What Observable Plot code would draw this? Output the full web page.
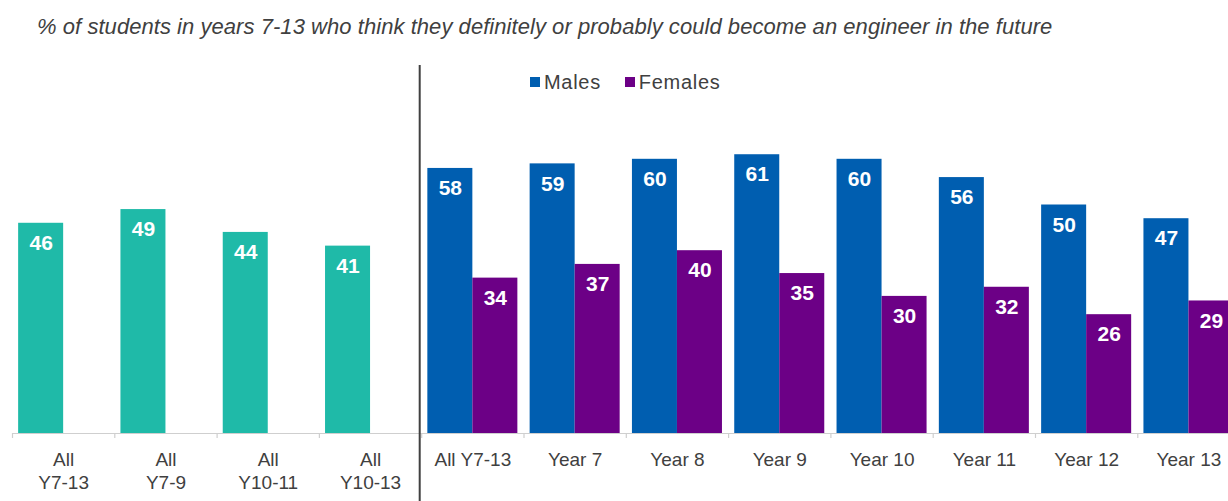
<!DOCTYPE html>
<html>
<head>
<meta charset="utf-8">
<script src="https://cdn.jsdelivr.net/npm/d3@7"></script>
<script src="https://cdn.jsdelivr.net/npm/@observablehq/plot@0.6"></script>
<style>
  html, body { margin: 0; padding: 0; background: #fff; overflow: hidden; }
  #wrap { position: relative; width: 1228px; height: 501px; overflow: hidden; font-family: "Liberation Sans", Arial, sans-serif; }
  #title { height: 50px; box-sizing: border-box; padding: 16px 0 0 37px; font-size: 22px; line-height: 22px; font-style: italic; color: #404040; white-space: nowrap; letter-spacing: 0.05px; }
  #legend { position: absolute; top: 72px; left: 530px; display: flex; align-items: center; font-size: 20px; line-height: 20px; color: #404040; letter-spacing: 0.7px; }
  #legend .item { display: flex; align-items: center; margin-right: 24px; }
  #legend .sw { width: 10px; height: 10px; margin-right: 4px; }
</style>
</head>
<body>
<div id="wrap">
  <div id="title"></div>
  <div id="chart"></div>
  <div id="legend"></div>
</div>
<script>
const titleText = "% of students in years 7-13 who think they definitely or probably could become an engineer in the future";

const overallCategories = ["All\nY7-13", "All\nY7-9", "All\nY10-11", "All\nY10-13"];
const overallValues = [46, 49, 44, 41];

const yearCategories = ["All Y7-13", "Year 7", "Year 8", "Year 9", "Year 10", "Year 11", "Year 12", "Year 13"];
const maleValues = [58, 59, 60, 61, 60, 56, 50, 47];
const femaleValues = [34, 37, 40, 35, 30, 32, 26, 29];

const seriesNames = ["Males", "Females"];
const seriesColors = ["#005eb0", "#6c0086"];
const overallName = "All";
const overallColor = "#1fbaa8";

// layout constants
const slotEdges = [[0.06, 0.5], [0.5, 0.94]];
const baselinePx = 383;
const pxPerUnit = 4.57;
const yMax = 70;
const tickPx = 5;

document.getElementById("title").textContent = titleText;

const allCategories = overallCategories.concat(yearCategories);
const nCat = allCategories.length;

const bars = [];
overallCategories.forEach((c, i) => bars.push({pos: i, slot: 0, value: overallValues[i], series: overallName}));
yearCategories.forEach((c, j) => {
  const i = overallCategories.length + j;
  bars.push({pos: i, slot: 0, value: maleValues[j], series: seriesNames[0]});
  bars.push({pos: i, slot: 1, value: femaleValues[j], series: seriesNames[1]});
});
const labels = allCategories.map((c, i) => ({pos: i, text: c}));
const boundaries = d3.range(nCat + 1);

const chart = Plot.plot({
  width: 1228,
  height: 451,
  marginTop: 15,
  marginBottom: 0,
  marginLeft: 0,
  marginRight: 0,
  style: {fontFamily: "Liberation Sans, Arial, sans-serif", background: "white", overflow: "hidden"},
  x: {domain: [0, nCat], range: [12, 12 + nCat * 102.3], axis: null},
  y: {domain: [0, yMax], range: [baselinePx, baselinePx - yMax * pxPerUnit], axis: null},
  color: {domain: [overallName, ...seriesNames], range: [overallColor, ...seriesColors]},
  marks: [
    Plot.ruleY([0], {x1: 0, x2: nCat, stroke: "#cfcfcf", strokeWidth: 1.2}),
    Plot.ruleX(boundaries, {x: d => d, y1: 0, y2: -tickPx / pxPerUnit, stroke: "#cfcfcf", strokeWidth: 1.2}),
    Plot.rect(bars, {
      x1: d => d.pos + slotEdges[d.slot][0],
      x2: d => d.pos + slotEdges[d.slot][1],
      y1: 0,
      y2: "value",
      fill: "series"
    }),
    Plot.text(bars, {
      x: d => d.pos + (slotEdges[d.slot][0] + slotEdges[d.slot][1]) / 2,
      y: "value",
      text: d => String(d.value),
      dy: 20,
      fill: "white",
      fontWeight: "bold",
      fontSize: 21
    }),
    Plot.ruleX([overallCategories.length], {stroke: "#404040", strokeWidth: 2, dx: -2}),
    Plot.text(labels, {
      x: d => d.pos + 0.5,
      y: 0,
      text: "text",
      lineAnchor: "top",
      dy: 16,
      fontSize: 19,
      lineHeight: 1.22,
      fill: "#404040"
    })
  ]
});
document.getElementById("chart").appendChild(chart);

const legend = document.getElementById("legend");
seriesNames.forEach((name, k) => {
  const item = document.createElement("div");
  item.className = "item";
  const sw = document.createElement("div");
  sw.className = "sw";
  sw.style.background = seriesColors[k];
  const tx = document.createElement("span");
  tx.textContent = name;
  item.appendChild(sw);
  item.appendChild(tx);
  legend.appendChild(item);
});
</script>
</body>
</html>
